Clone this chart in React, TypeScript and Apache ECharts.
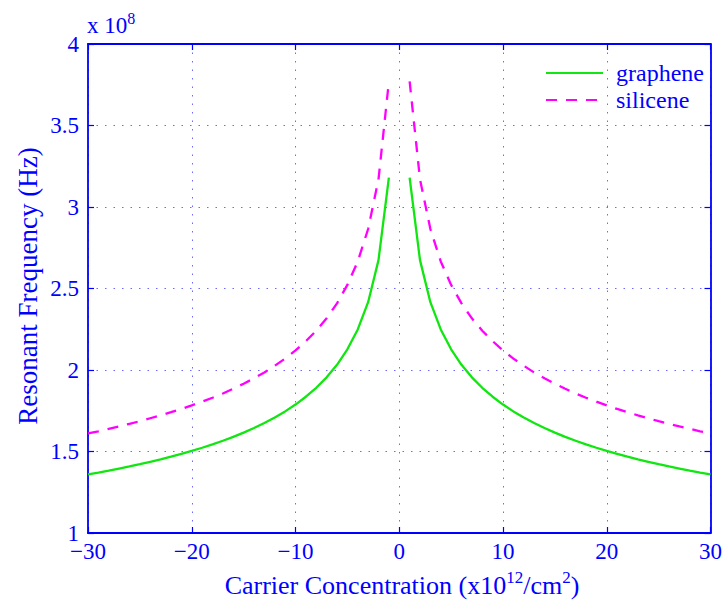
import React, { useEffect, useRef } from "react";
import * as echarts from "echarts";

// carrier concentration magnitudes (x10^12 /cm^2), mirrored for negative side
const concentration = [1, 2, 3, 4, 5, 6, 7, 8, 9, 10, 11, 12, 13, 14, 15, 16, 17, 18, 19, 20, 21, 22, 23, 24, 25, 26, 27, 28, 29, 30];
// resonant frequency (x10^8 Hz)
const grapheneFreq = [3.18, 2.674, 2.416, 2.249, 2.127, 2.032, 1.955, 1.891, 1.836, 1.788, 1.746, 1.709, 1.675, 1.644, 1.616, 1.59, 1.566, 1.544, 1.523, 1.504, 1.486, 1.468, 1.452, 1.437, 1.422, 1.408, 1.395, 1.382, 1.37, 1.359];
const siliceneFreq = [3.77, 3.17, 2.865, 2.666, 2.522, 2.409, 2.317, 2.241, 2.177, 2.12, 2.07, 2.026, 1.985, 1.949, 1.916, 1.885, 1.856, 1.83, 1.806, 1.783, 1.761, 1.741, 1.722, 1.704, 1.686, 1.67, 1.654, 1.639, 1.624, 1.611];
const xTicks = { min: -30, max: 30, interval: 10 };
const yTicks = { min: 1, max: 4, interval: 0.5 };
const seriesNames = ["graphene", "silicene"];

const BLUE = "#0000ff";
const FONT = "Liberation Serif";

function buildData(vals: number[]) {
  const neg: any[] = [];
  for (let i = concentration.length - 1; i >= 0; i--) neg.push([-concentration[i], vals[i]]);
  const pos = concentration.map((c, i) => [c, vals[i]]);
  return [...neg, [0, "-"], ...pos];
}

export default function App() {
  const ref = useRef<HTMLDivElement>(null);
  useEffect(() => {
    if (!ref.current) return;
    const chart = echarts.init(ref.current, undefined, { renderer: "svg" });
    const gridLine = { show: true, lineStyle: { color: "#6a6aff", width: 1, type: [1.5, 7] as any } };
    const tick = { show: true, inside: true, length: 6, lineStyle: { color: BLUE, width: 1.2 } };
    const axisLine = { show: true, onZero: false, lineStyle: { color: BLUE, width: 1.8 } };
    const fmtX = (v: number) => (v < 0 ? "\u2212" + Math.abs(v) : String(v));
    const fmtY = (v: number) => (Number.isInteger(v) ? String(v) : v.toFixed(1));
    chart.setOption({
      animation: false,
      backgroundColor: "#ffffff",
      grid: { left: 88, right: 9, top: 44, bottom: 68, containLabel: false },
      xAxis: [
        {
          type: "value", ...xTicks, position: "bottom",
          axisLine, axisTick: tick, splitLine: gridLine,
          axisLabel: { color: BLUE, fontFamily: FONT, fontSize: 23, margin: 7, formatter: fmtX },
        },
        {
          type: "value", ...xTicks, position: "top",
          axisLine, axisTick: tick, splitLine: { show: false }, axisLabel: { show: false },
        },
      ],
      yAxis: [
        {
          type: "value", ...yTicks, position: "left",
          axisLine, axisTick: tick, splitLine: gridLine,
          axisLabel: { color: BLUE, fontFamily: FONT, fontSize: 23, margin: 9, formatter: fmtY },
        },
        {
          type: "value", ...yTicks, position: "right",
          axisLine, axisTick: tick, splitLine: { show: false }, axisLabel: { show: false },
        },
      ],
      legend: {
        orient: "vertical",
        left: 540,
        top: 56,
        itemWidth: 57,
        itemHeight: 14,
        itemGap: 3,
        data: seriesNames,
        itemStyle: { opacity: 0 },
        textStyle: { color: BLUE, fontFamily: FONT, fontSize: 24, padding: [0, 0, 0, 8] },
      },
      series: [
        {
          name: seriesNames[0], type: "line", data: buildData(grapheneFreq),
          symbol: "none", connectNulls: false,
          lineStyle: { color: "#11e611", width: 2.3 }, itemStyle: { color: "#11e611" },
        },
        {
          name: seriesNames[1], type: "line", data: buildData(siliceneFreq),
          symbol: "none", connectNulls: false,
          lineStyle: { color: "#ff00ff", width: 2.3, type: [11, 9] as any }, itemStyle: { color: "#ff00ff" },
        },
      ],
      graphic: [
        {
          type: "text", left: 87, top: 10,
          style: {
            text: "x 10{sup|8}", fill: BLUE, font: `23px "${FONT}"`,
            rich: { sup: { fontSize: 16, fontFamily: FONT, fill: BLUE, padding: [0, 0, 15, 0] } },
          },
        },
        {
          type: "text", x: 402, y: 585,
          style: {
            text: "Carrier Concentration (x10{sup|12}/cm{sup|2})", fill: BLUE, font: `26px "${FONT}"`,
            align: "center", verticalAlign: "middle",
            rich: { sup: { fontSize: 17, fontFamily: FONT, fill: BLUE, padding: [0, 0, 15, 0] } },
          },
        },
        {
          type: "text", x: 28, y: 286, rotation: Math.PI / 2,
          style: {
            text: "Resonant Frequency (Hz)", fill: BLUE, font: `27px "${FONT}"`,
            align: "center", verticalAlign: "middle",
          },
        },
      ],
    });
    return () => chart.dispose();
  }, []);
  return <div ref={ref} style={{ position: "fixed", left: 0, top: 0, width: 725, height: 601 }} />;
}
